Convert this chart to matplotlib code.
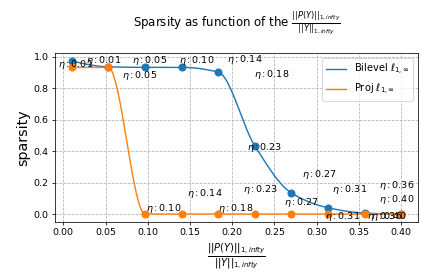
import numpy as np
import matplotlib
matplotlib.use("Agg")
import matplotlib.pyplot as plt

# valeurs de eta (abscisse = ||P(Y)|| / ||Y||)
eta = [0.01, 0.0533, 0.0967, 0.14, 0.1833, 0.2267, 0.27, 0.3133, 0.3567, 0.40]
sparsite_bilevel = [0.9725, 0.935, 0.932, 0.932, 0.902, 0.433, 0.134, 0.040, 0.006, 0.0]
sparsite_proj = [0.932, 0.932, 0.0, 0.0, 0.0, 0.0, 0.0, 0.0, 0.0, 0.0]

# decalage des etiquettes (pixels), sinon tout se chevauche
decal_bilevel = [(14, -2), (24, 4), (34, 4), (45, 5), (36, -5),
                 (-8, -4), (11, 16), (4, 16), (14, 25), (-22, 12)]
decal_proj = [(-14, 0), (14, -11), (1, 3), (5, 18), (0, 3),
              (-12, 22), (-7, 9), (-3, -5), (2, -5), (-30, -5)]


def pchip(x, y, xn):
    # interpolation cubique monotone (comme scipy PchipInterpolator)
    x = np.asarray(x, float)
    y = np.asarray(y, float)
    h = np.diff(x)
    d = np.diff(y) / h
    n = len(x)
    m = np.zeros(n)
    for k in range(1, n - 1):
        if d[k - 1] * d[k] > 0:
            w1 = 2 * h[k] + h[k - 1]
            w2 = h[k] + 2 * h[k - 1]
            m[k] = (w1 + w2) / (w1 / d[k - 1] + w2 / d[k])

    def bord(h0, h1, d0, d1):
        v = ((2 * h0 + h1) * d0 - h0 * d1) / (h0 + h1)
        if np.sign(v) != np.sign(d0):
            v = 0.0
        elif np.sign(d0) != np.sign(d1) and abs(v) > 3 * abs(d0):
            v = 3 * d0
        return v

    m[0] = bord(h[0], h[1], d[0], d[1])
    m[-1] = bord(h[-1], h[-2], d[-1], d[-2])
    i = np.clip(np.searchsorted(x, xn) - 1, 0, n - 2)
    t = (xn - x[i]) / h[i]
    h00 = 2 * t**3 - 3 * t**2 + 1
    h10 = t**3 - 2 * t**2 + t
    h01 = -2 * t**3 + 3 * t**2
    h11 = t**3 - t**2
    return h00 * y[i] + h10 * h[i] * m[i] + h01 * y[i + 1] + h11 * h[i] * m[i + 1]


fig = plt.figure(figsize=(424 / 68, 280 / 68), dpi=68)
ax = fig.add_axes([0.1305, 0.2082, 0.8545, 0.6014])

xs = np.linspace(eta[0], eta[-1], 400)
ax.plot(xs, pchip(eta, sparsite_bilevel, xs), color='C0', label=r'Bilevel $\ell_{1,\infty}$')
ax.plot(xs, pchip(eta, sparsite_proj, xs), color='C1', label=r'Proj $\ell_{1,\infty}$')
ax.plot(eta, sparsite_bilevel, 'o', color='C0', markersize=7.5)
ax.plot(eta, sparsite_proj, 'o', color='C1', markersize=7.5)

for i in range(len(eta)):
    ax.annotate(r'$\eta : %.2f$' % eta[i], (eta[i], sparsite_bilevel[i]),
                xytext=decal_bilevel[i], textcoords='offset pixels')
    ax.annotate(r'$\eta : %.2f$' % eta[i], (eta[i], sparsite_proj[i]),
                xytext=decal_proj[i], textcoords='offset pixels')

ax.grid(True, linestyle='--')
ax.legend(loc='upper right', fontsize=10.5)
ax.set_xlabel(r'$\frac{||P(Y)||_{1,infty}}{||Y||_{1,infty}}$', fontsize=15)
ax.set_ylabel('sparsity', fontsize=15)
fig.suptitle(r'Sparsity as function of the $\frac{||P(Y)||_{1,infty}}{||Y||_{1,infty}}$',
             x=0.558, y=0.965, fontsize=12.5)

fig.savefig('out.png', dpi=68)
